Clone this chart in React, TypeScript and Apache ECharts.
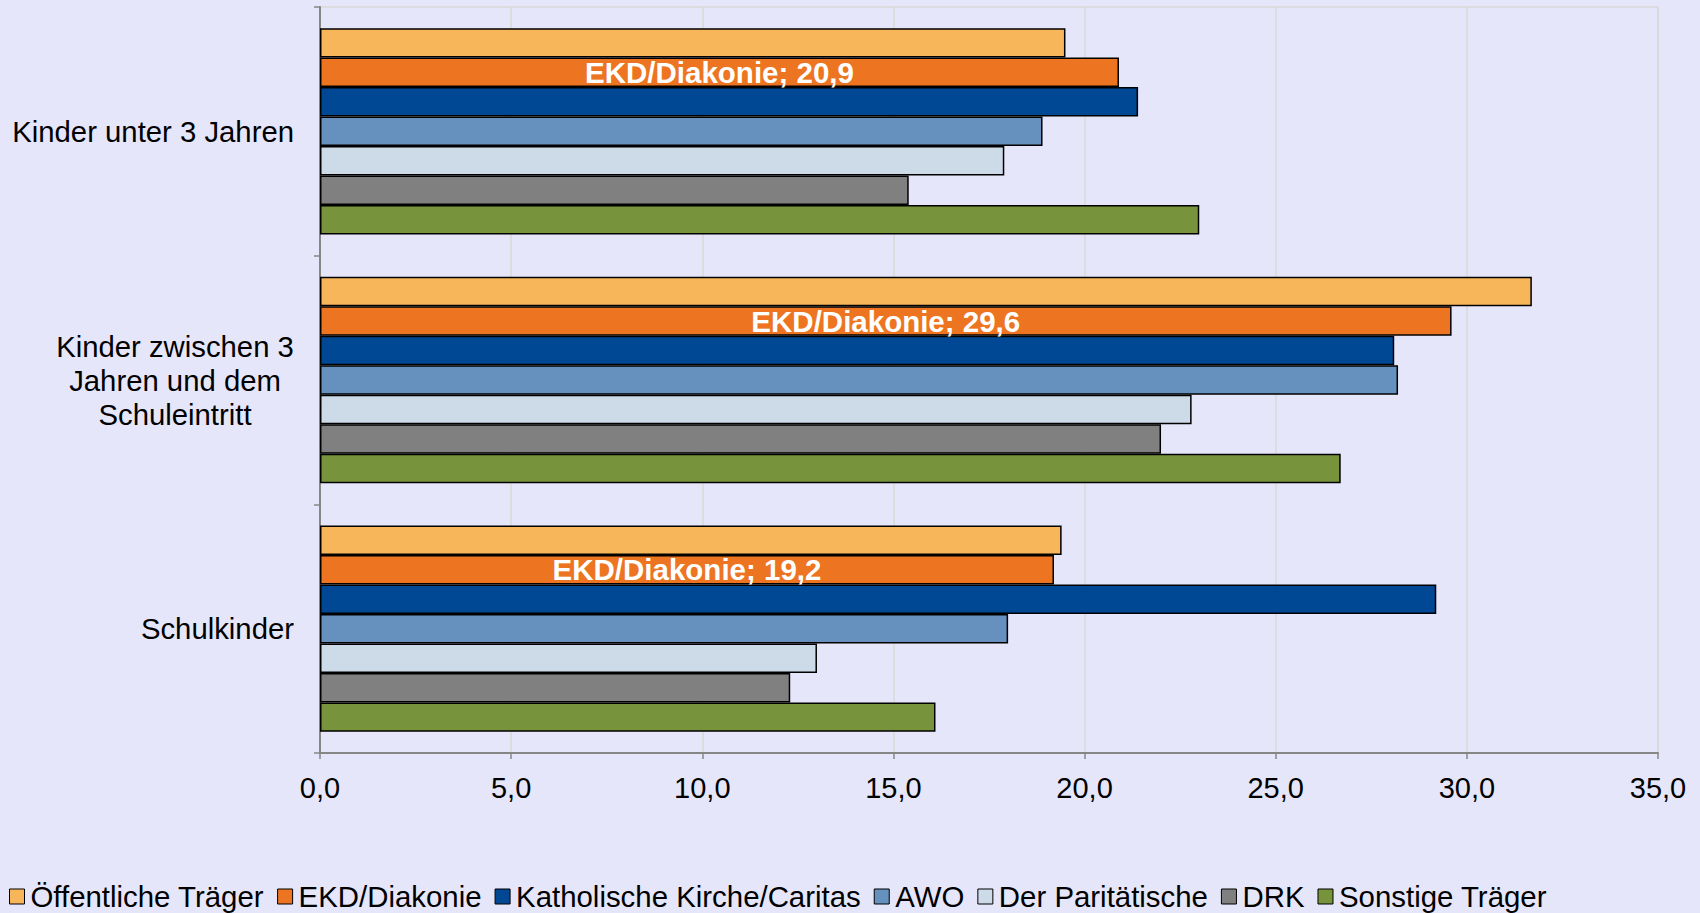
import React, { useEffect, useRef } from "react";
import * as echarts from "echarts";

const categories = [
  "Kinder unter 3 Jahren",
  "Kinder zwischen 3\nJahren und dem\nSchuleintritt",
  "Schulkinder",
];
const seriesNames = [
  "Öffentliche Träger",
  "EKD/Diakonie",
  "Katholische Kirche/Caritas",
  "AWO",
  "Der Paritätische",
  "DRK",
  "Sonstige Träger",
];
const oeffentliche = [19.5, 31.7, 19.4];
const ekd = [20.9, 29.6, 19.2];
const katholisch = [21.4, 28.1, 29.2];
const awo = [18.9, 28.2, 18.0];
const paritaetisch = [17.9, 22.8, 13.0];
const drk = [15.4, 22.0, 12.3];
const sonstige = [23.0, 26.7, 16.1];
const xTicks = { min: 0, max: 35, interval: 5 };

const seriesData = [oeffentliche, ekd, katholisch, awo, paritaetisch, drk, sonstige];
const colors = ["#F8B65B", "#ED7420", "#004893", "#6691BE", "#CDDAE8", "#808080", "#77943C"];
const FONT = "'Liberation Sans', Arial, sans-serif";
const fmt = (v: number) => v.toFixed(1).replace(".", ",");

export default function App() {
  const ref = useRef<HTMLDivElement>(null);
  useEffect(() => {
    document.body.style.margin = "0";
    const chart = echarts.init(ref.current!, null, { renderer: "svg" });
    chart.setOption({
      animation: false,
      backgroundColor: "#E6E6FA",
      textStyle: { fontFamily: FONT },
      grid: {
        left: 320,
        right: 42,
        top: 7,
        bottom: 160,
        show: true,
        borderColor: "#D9D9D9",
        borderWidth: 1.5,
        backgroundColor: "transparent",
      },
      legend: {
        data: seriesNames,
        left: 9,
        top: 882,
        padding: 0,
        itemWidth: 15,
        itemHeight: 15,
        itemGap: 13,
        icon: "rect",
        itemStyle: { borderColor: "#000", borderWidth: 1 },
        textStyle: { fontSize: 29.4, color: "#000", fontFamily: FONT, padding: [0, 0, 0, 1] },
      },
      xAxis: {
        type: "value",
        min: xTicks.min,
        max: xTicks.max,
        interval: xTicks.interval,
        axisLine: { show: true, lineStyle: { color: "#868686", width: 2 } },
        axisTick: { show: true, length: 6, lineStyle: { color: "#868686", width: 1.5 } },
        splitLine: { show: true, lineStyle: { color: "#D9D9D9", width: 1.5 } },
        axisLabel: {
          fontSize: 29,
          color: "#000",
          fontFamily: FONT,
          margin: 20,
          formatter: (v: number) => fmt(v),
        },
      },
      yAxis: {
        type: "category",
        inverse: true,
        data: categories,
        axisLine: { show: true, lineStyle: { color: "#868686", width: 2 } },
        axisTick: { show: true, length: 6, lineStyle: { color: "#868686", width: 1.5 } },
        axisLabel: {
          fontSize: 29.3,
          color: "#000",
          fontFamily: FONT,
          margin: 26,
          formatter: (v: string) =>
            v.includes("\n")
              ? v
                  .split("\n")
                  .map((l) => `{c|${l}}`)
                  .join("\n")
              : v,
          rich: {
            c: {
              width: 238,
              align: "center",
              fontSize: 29.3,
              lineHeight: 34,
              color: "#000",
              fontFamily: FONT,
            },
          },
        },
      },
      series: seriesNames.map((name, i) => ({
        name,
        type: "bar",
        data: seriesData[i],
        barGap: "0%",
        barCategoryGap: "17%",
        itemStyle: { color: colors[i], borderColor: "#000", borderWidth: 1.5 },
        label:
          i === 1
            ? {
                show: true,
                position: "inside",
                color: "#fff",
                fontWeight: "bold",
                fontSize: 29.5,
                fontFamily: FONT,
                formatter: (p: any) => `${p.seriesName}; ${fmt(p.value)}`,
              }
            : { show: false },
      })),
    });
    return () => chart.dispose();
  }, []);
  return <div ref={ref} style={{ width: 1700, height: 913 }} />;
}
